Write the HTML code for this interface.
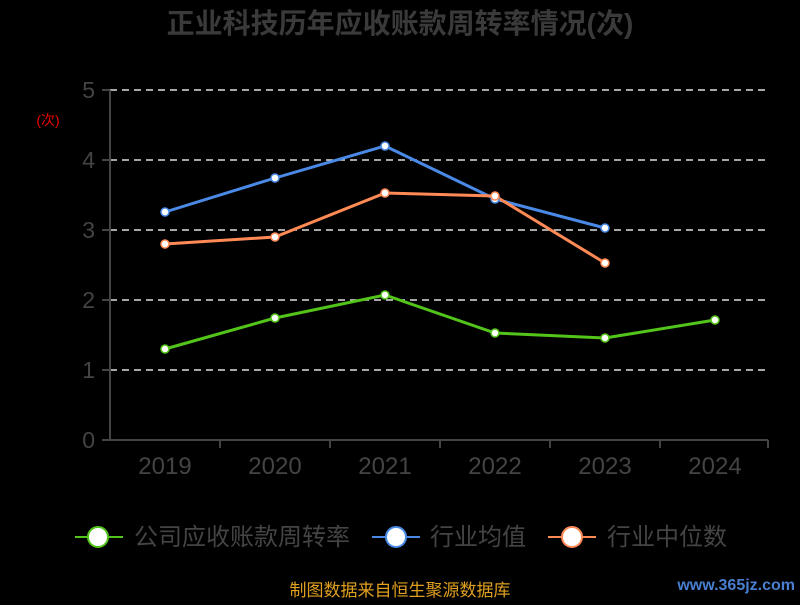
<!DOCTYPE html><html><head><meta charset="utf-8"><style>body{margin:0;background:#000;width:800px;height:600px;overflow:hidden}</style></head><body>
<svg width="800" height="600" xmlns="http://www.w3.org/2000/svg" font-family="Liberation Sans, Noto Sans CJK SC, sans-serif">
<rect width="800" height="600" fill="#000"/>
<text x="400" y="33" text-anchor="middle" font-size="28" font-weight="bold" fill="#3a3a3a">正业科技历年应收账款周转率情况(次)</text>
<g stroke="#ddd" stroke-width="1.5" stroke-dasharray="7,5">
<line x1="110" y1="90" x2="768" y2="90"/><line x1="110" y1="160" x2="768" y2="160"/><line x1="110" y1="230" x2="768" y2="230"/><line x1="110" y1="300" x2="768" y2="300"/><line x1="110" y1="370" x2="768" y2="370"/></g>
<g stroke="#444" stroke-width="2"><line x1="110" y1="90" x2="110" y2="440"/><line x1="110" y1="440" x2="768" y2="440"/>
<line x1="102" y1="90" x2="110" y2="90"/><line x1="102" y1="160" x2="110" y2="160"/><line x1="102" y1="230" x2="110" y2="230"/><line x1="102" y1="300" x2="110" y2="300"/><line x1="102" y1="370" x2="110" y2="370"/><line x1="102" y1="440" x2="110" y2="440"/>
<line x1="220" y1="440" x2="220" y2="448"/><line x1="330" y1="440" x2="330" y2="448"/><line x1="440" y1="440" x2="440" y2="448"/><line x1="550" y1="440" x2="550" y2="448"/><line x1="660" y1="440" x2="660" y2="448"/><line x1="768" y1="440" x2="768" y2="448"/></g>
<g fill="#444" font-size="23" text-anchor="end"><text x="95" y="98">5</text><text x="95" y="168">4</text><text x="95" y="238">3</text><text x="95" y="308">2</text><text x="95" y="378">1</text><text x="95" y="448">0</text></g>
<g fill="#444" font-size="24" text-anchor="middle"><text x="165" y="474">2019</text><text x="275" y="474">2020</text><text x="385" y="474">2021</text><text x="495" y="474">2022</text><text x="605" y="474">2023</text><text x="715" y="474">2024</text></g>
<text x="48" y="125" fill="#e00" font-size="14" text-anchor="middle">(次)</text>
<polyline fill="none" stroke="#4a8ae6" stroke-width="3" points="165,212 275,178 385,146 495,199 605,228"/>
<polyline fill="none" stroke="#ff8a55" stroke-width="3" points="165,244 275,237 385,193 495,196 605,263"/>
<polyline fill="none" stroke="#52c41a" stroke-width="3" points="165,349 275,318 385,295 495,333 605,338 715,320"/>
<g fill="#fff" stroke="#4a8ae6" stroke-width="1.5"><circle cx="165" cy="212" r="4"/><circle cx="275" cy="178" r="4"/><circle cx="385" cy="146" r="4"/><circle cx="495" cy="199" r="4"/><circle cx="605" cy="228" r="4"/></g>
<g fill="#fff" stroke="#ff8a55" stroke-width="1.5"><circle cx="165" cy="244" r="4"/><circle cx="275" cy="237" r="4"/><circle cx="385" cy="193" r="4"/><circle cx="495" cy="196" r="4"/><circle cx="605" cy="263" r="4"/></g>
<g fill="#fff" stroke="#52c41a" stroke-width="1.5"><circle cx="165" cy="349" r="4"/><circle cx="275" cy="318" r="4"/><circle cx="385" cy="295" r="4"/><circle cx="495" cy="333" r="4"/><circle cx="605" cy="338" r="4"/><circle cx="715" cy="320" r="4"/></g>
<g font-size="24" fill="#444">
<line x1="75" y1="537" x2="123" y2="537" stroke="#52c41a" stroke-width="2"/><circle cx="98" cy="537" r="10" fill="#fff" stroke="#52c41a" stroke-width="2"/><text x="134" y="545">公司应收账款周转率</text>
<line x1="372" y1="537" x2="420" y2="537" stroke="#4a8ae6" stroke-width="2"/><circle cx="396" cy="537" r="10" fill="#fff" stroke="#4a8ae6" stroke-width="2"/><text x="430" y="545">行业均值</text>
<line x1="548" y1="537" x2="596" y2="537" stroke="#ff8a55" stroke-width="2"/><circle cx="572" cy="537" r="10" fill="#fff" stroke="#ff8a55" stroke-width="2"/><text x="607" y="545">行业中位数</text></g>
<text x="400" y="596" text-anchor="middle" font-size="17" fill="#e0a020">制图数据来自恒生聚源数据库</text>
<text x="795" y="590" text-anchor="end" font-size="16" font-weight="bold" fill="#4a7fd0">www.365jz.com</text>
</svg></body></html>
